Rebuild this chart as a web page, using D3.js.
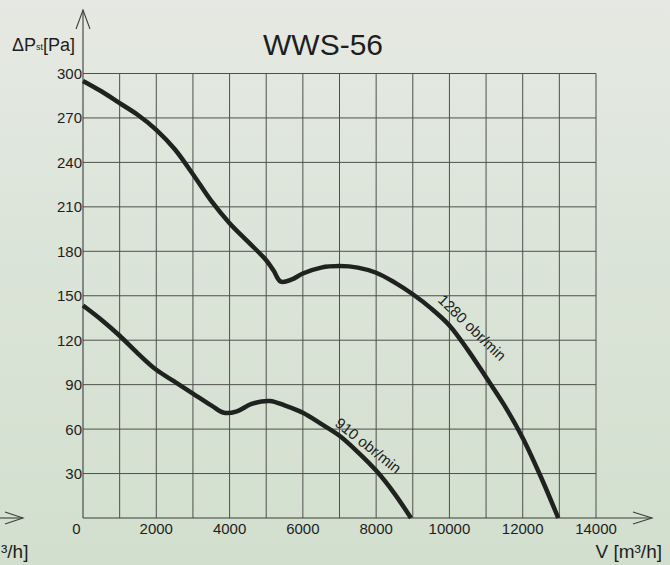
<!DOCTYPE html>
<html>
<head>
<meta charset="utf-8">
<script src="https://cdn.jsdelivr.net/npm/d3@7"></script>
<style>
  html, body { margin: 0; padding: 0; background: #dde5da; }
  svg { display: block; }
  text { font-family: "Liberation Sans", Arial, Helvetica, sans-serif; fill: #1e1e1e; }
</style>
</head>
<body>
<svg id="chart" width="670" height="565"></svg>
<script>
// ---------- data ----------
const title = "WWS-56";
const yLabel = ["ΔP", "st", "[Pa]"];
const xLabel = "V [m³/h]";
const xLabelRemnant = "³/h]";
const xTickValues = [0, 2000, 4000, 6000, 8000, 10000, 12000, 14000];
const yTickValues = [0, 30, 60, 90, 120, 150, 180, 210, 240, 270, 300];
const xGridValues = [1000, 2000, 3000, 4000, 5000, 6000, 7000, 8000, 9000, 10000, 11000, 12000, 13000, 14000];

const flow1280 = [0, 500, 1000, 1500, 2000, 2500, 3000, 3500, 4000, 4500, 5000, 5200, 5400, 5700, 6000, 6500, 7000, 7500, 8000, 8500, 9000, 9500, 10000, 10500, 11000, 11500, 12000, 12500, 12970];
const press1280 = [295, 288, 280, 272, 262, 249, 232, 214, 199, 186.5, 174, 167, 159.5, 161, 165, 169, 170, 169, 165.5, 159, 151, 141.5, 130, 113.5, 95, 76, 54, 27.5, 0];
const label1280 = "1280 obr/min";

const flow910 = [0, 500, 1000, 1500, 2000, 2500, 3000, 3500, 3850, 4200, 4600, 5100, 5500, 6000, 6500, 7000, 7500, 8000, 8500, 8950];
const press910 = [143.4, 133.8, 123, 111, 100, 92, 84, 76, 71, 72, 77, 79, 76, 71, 63.5, 55.5, 44.5, 32, 16.5, 0];
const label910 = "910 obr/min";

// ---------- drawing ----------
const svg = d3.select("#chart");
const defs = svg.append("defs");
const grad = defs.append("linearGradient").attr("id", "bg").attr("x1", 0).attr("y1", 0).attr("x2", 0).attr("y2", 1);
grad.append("stop").attr("offset", "0%").attr("stop-color", "#e6e9e3");
grad.append("stop").attr("offset", "45%").attr("stop-color", "#dbe4d8");
grad.append("stop").attr("offset", "100%").attr("stop-color", "#d2dfce");
svg.append("rect").attr("width", 670).attr("height", 565).attr("fill", "url(#bg)");

const x = d3.scaleLinear().domain([0, 14000]).range([83, 596]);
const y = d3.scaleLinear().domain([0, 300]).range([518, 73.5]);

const gridColor = "#4d504c";

// horizontal grid
svg.append("g").selectAll("line").data(yTickValues.filter(d => d > 0)).join("line")
  .attr("x1", x(0)).attr("x2", x(14000))
  .attr("y1", d => y(d)).attr("y2", d => y(d))
  .attr("stroke", gridColor).attr("stroke-width", 1);

// vertical grid
svg.append("g").selectAll("line").data(xGridValues).join("line")
  .attr("x1", d => x(d)).attr("x2", d => x(d))
  .attr("y1", y(0)).attr("y2", y(300))
  .attr("stroke", gridColor).attr("stroke-width", 1);

// axes with arrows
const axisColor = "#3c3f3b";
svg.append("line").attr("x1", x(0)).attr("x2", x(0)).attr("y1", y(0)).attr("y2", 10)
  .attr("stroke", axisColor).attr("stroke-width", 1.1);
svg.append("path").attr("d", `M${x(0) - 7},29 L${x(0)},10 L${x(0) + 7},29`)
  .attr("fill", "none").attr("stroke", axisColor).attr("stroke-width", 1.1);
svg.append("line").attr("x1", x(0)).attr("x2", 652).attr("y1", y(0)).attr("y2", y(0))
  .attr("stroke", axisColor).attr("stroke-width", 1.1);
svg.append("path").attr("d", `M633,${y(0) - 6} L652,${y(0)} L633,${y(0) + 6}`)
  .attr("fill", "none").attr("stroke", axisColor).attr("stroke-width", 1.1);

// neighbour chart remnant on the left edge
svg.append("line").attr("x1", 0).attr("x2", 23).attr("y1", y(0)).attr("y2", y(0))
  .attr("stroke", axisColor).attr("stroke-width", 1.1);
svg.append("path").attr("d", `M5,${y(0) - 6} L23,${y(0)} L5,${y(0) + 6}`)
  .attr("fill", "none").attr("stroke", axisColor).attr("stroke-width", 1.1);
svg.append("text").attr("x", 1).attr("y", 558)
  .attr("font-size", 19).text(xLabelRemnant);

// y tick labels
svg.append("g").selectAll("text").data(yTickValues.filter(d => d > 0)).join("text")
  .attr("x", x(0) - 1).attr("y", d => y(d) + 5.5)
  .attr("text-anchor", "end").attr("font-size", 15)
  .text(d => d);

// x tick labels
svg.append("g").selectAll("text").data(xTickValues).join("text")
  .attr("x", d => d === 0 ? x(0) - 6.5 : x(d))
  .attr("y", 534)
  .attr("text-anchor", "middle").attr("font-size", 15)
  .text(d => d);

// title
svg.append("text").attr("x", 263).attr("y", 55).attr("font-size", 30).text(title);

// y axis label
const yl = svg.append("text").attr("x", 12).attr("y", 51).attr("font-size", 18);
yl.append("tspan").text(yLabel[0]);
yl.append("tspan").attr("font-size", 9).attr("dy", -1).text(yLabel[1]);
yl.append("tspan").attr("font-size", 18).attr("dy", 1).text(yLabel[2]);

// x axis label
svg.append("text").attr("x", 662).attr("y", 558).attr("text-anchor", "end")
  .attr("font-size", 19).text(xLabel);

// curves
const line = d3.line().x(d => x(d[0])).y(d => y(d[1])).curve(d3.curveCatmullRom.alpha(0.5));
const curveColor = "#1f221f";
svg.append("path").datum(d3.zip(flow1280, press1280)).attr("d", line)
  .attr("fill", "none").attr("stroke", curveColor).attr("stroke-width", 4.5)
  .attr("stroke-linecap", "butt").attr("stroke-linejoin", "round");
svg.append("path").datum(d3.zip(flow910, press910)).attr("d", line)
  .attr("fill", "none").attr("stroke", curveColor).attr("stroke-width", 4.5)
  .attr("stroke-linecap", "butt").attr("stroke-linejoin", "round");

// curve labels
svg.append("text").attr("transform", "translate(437,301) rotate(44)")
  .attr("font-size", 15).text(label1280);
svg.append("text").attr("transform", "translate(334,425) rotate(38.5)")
  .attr("font-size", 15).text(label910);
</script>
</body>
</html>
